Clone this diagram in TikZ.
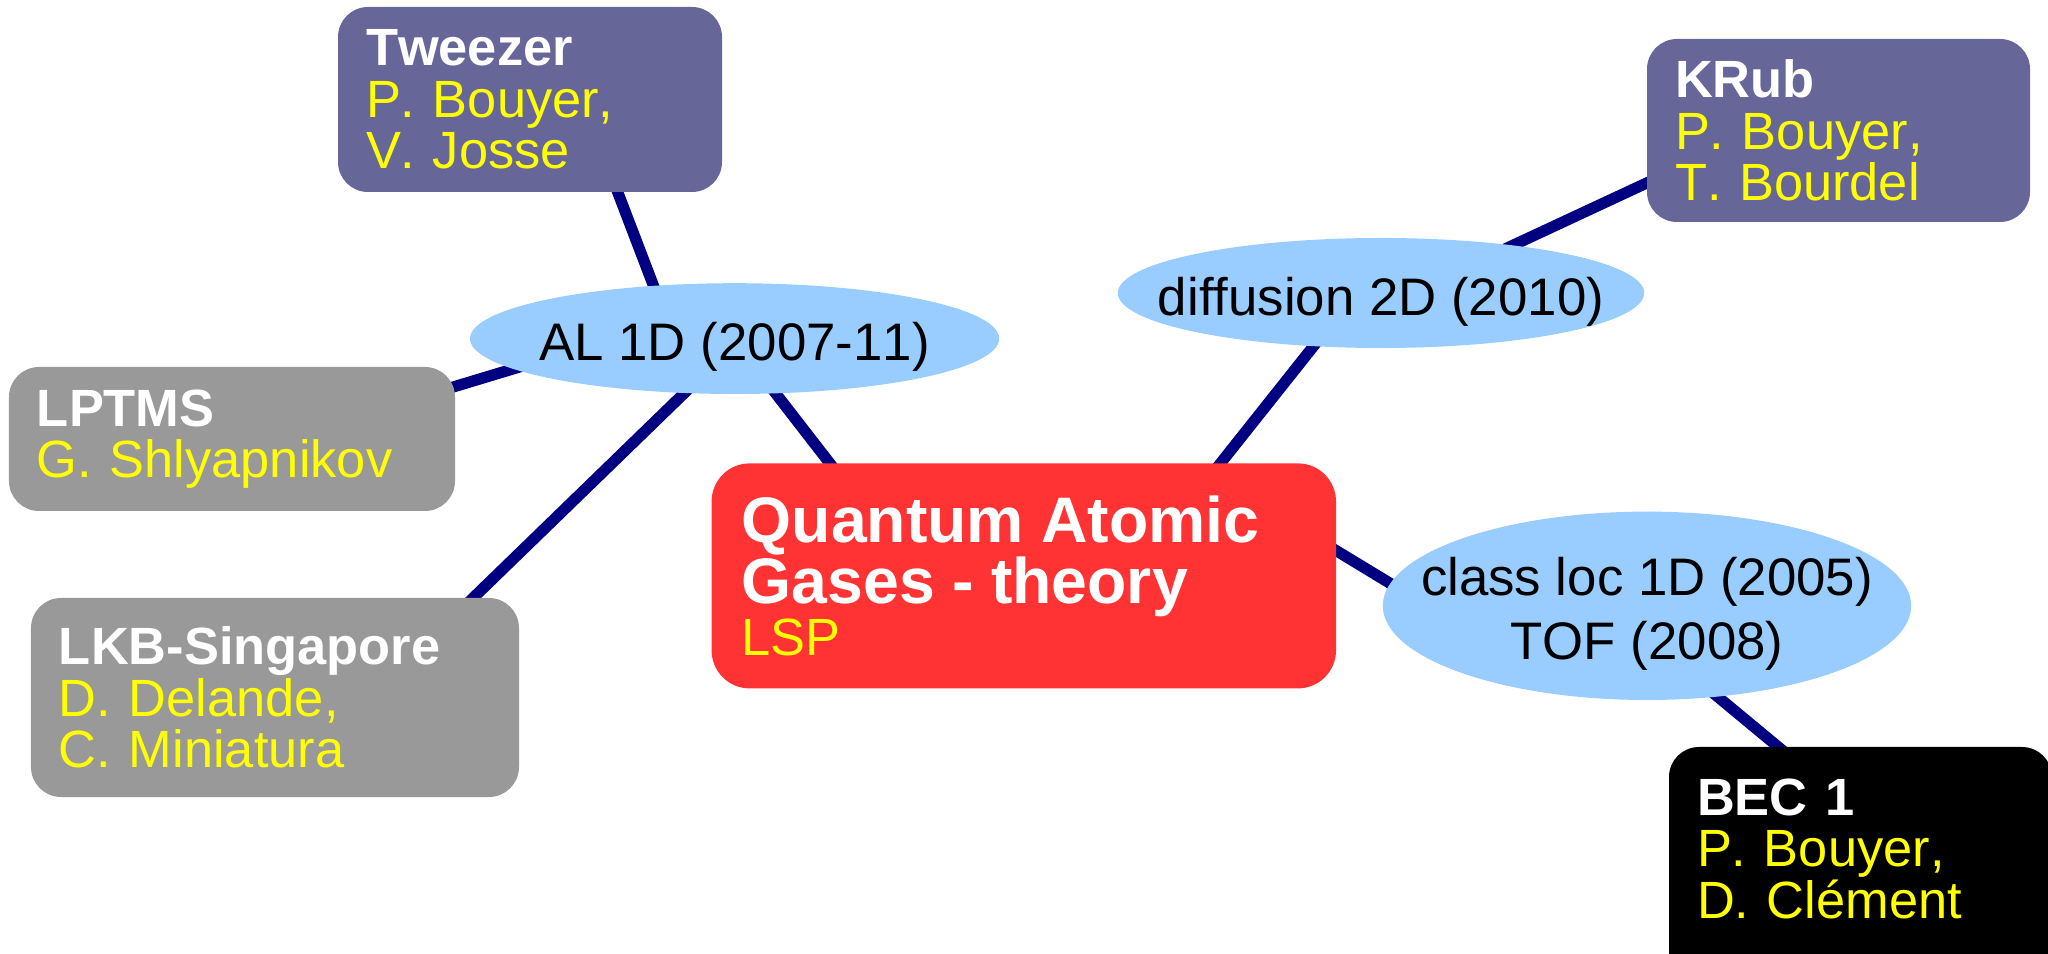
\documentclass[tikz,border=0pt]{standalone}
\usepackage{fontspec}
\setmainfont[Kerning=Off]{Liberation Sans}
\usetikzlibrary{calc,backgrounds,shapes.geometric}
\definecolor{purp}{HTML}{666699}
\definecolor{grayb}{HTML}{999999}
\definecolor{redb}{HTML}{FF3333}
\definecolor{bluee}{HTML}{99CCFF}
\definecolor{navyl}{HTML}{000080}
\definecolor{yell}{HTML}{FFFF00}
\tikzset{
  box/.style={rectangle, rounded corners=15bp, inner xsep=14bp, inner ysep=0pt,
    align=left, text=yell, font=\fontsize{26.3}{25.8}\selectfont},
  bubble/.style={ellipse, fill=bluee, inner sep=0pt},
  btext/.style={text=black, font=\fontsize{26.5}{32.2}\selectfont, align=center, inner sep=0pt},
  link/.style={draw=navyl, line width=5.6bp},
  ttl/.style={text=white, font=\bfseries}
}
\begin{document}
\begin{tikzpicture}[x=1bp,y=-1bp]
\useasboundingbox (0,0) rectangle (1024,477);
\clip (0,0) rectangle (1024,477);
% boxes
\node[box, fill=purp, text width=164bp, minimum height=92.5bp] (tw) at (265,49.75)
  {{\color{white}\bfseries Tweezer}\\P. Bouyer,\\V. Josse};
\node[box, fill=purp, text width=163.5bp, minimum height=91.5bp] (kr) at (919.25,65.25)
  {{\color{white}\bfseries KRub}\\P. Bouyer,\\T. Bourdel};
\node[box, fill=grayb, text width=195bp, minimum height=72bp] (lp) at (116,219.5)
  {{\color{white}\bfseries LPTMS}\\G. Shlyapnikov};
\node[box, fill=grayb, text width=216bp, minimum height=99.5bp] (lkb) at (137.5,348.75)
  {{\color{white}\bfseries LKB-Singapore}\\D. Delande,\\C. Miniatura};
\node[box, fill=redb, rounded corners=19bp, inner xsep=15bp, text width=282.2bp, minimum height=112.5bp] (qa) at (511.9,287.95)
  {{\fontsize{32.3}{30.7}\selectfont\color{white}\bfseries Quantum Atomic\\Gases - theory\par}{\fontsize{26.3}{26.7}\selectfont LSP}};
\node[box, fill=black, text width=163.5bp, minimum height=127.2bp] (bec) at (930.25,437.1)
  {{\color{white}\bfseries BEC 1}\\P. Bouyer,\\D. Clément\\\mbox{}};
% ellipses
\node[bubble, minimum width=264.6bp, minimum height=55.4bp] (al) at (367.3,169.3) {};
\node[btext, anchor=base] (alt) at ($(al.center)+(0,11)$) {AL 1D (2007-11)};
\node[bubble, minimum width=263.2bp, minimum height=55bp] (df) at (690.5,146.5) {};
\node[btext, anchor=base] (dft) at ($(df.center)+(0,11.2)$) {diffusion 2D (2010)};
\node[bubble, minimum width=264.2bp, minimum height=94.2bp] (cl) at (823.5,302.9) {};
\node[btext] (clt) at ($(cl.center)+(0,4)$) {class loc 1D (2005)\\TOF (2008)};
% connectors
\begin{pgfonlayer}{background}
\draw[link] ($(tw.center)+(40,36.25)$) -- ($(al.center)+(-36.3,-15.3)$);
\draw[link] ($(lp.center)+(101,-23.1)$) -- ($(al.center)+(-99.3,11.7)$);
\draw[link] ($(lkb.center)+(88.5,-39.55)$) -- ($(al.center)+(-15.3,17.7)$);
\draw[link] ($(al.center)+(12.7,17.3)$) -- ($(qa.center)+(-90.9,-48.45)$);
\draw[link] ($(qa.center)+(92.1,-48.45)$) -- ($(df.center)+(-28.5,20)$);
\draw[link] ($(df.center)+(54.5,-18.5)$) -- ($(kr.center)+(-86.25,21.75)$);
\draw[link] ($(qa.center)+(146.1,-18.75)$) -- ($(cl.center)+(-118.5,-5.2)$);
\draw[link] ($(cl.center)+(28.5,39.8)$) -- ($(bec.center)+(-33.25,-57.1)$);
\end{pgfonlayer}
\end{tikzpicture}
\end{document}
